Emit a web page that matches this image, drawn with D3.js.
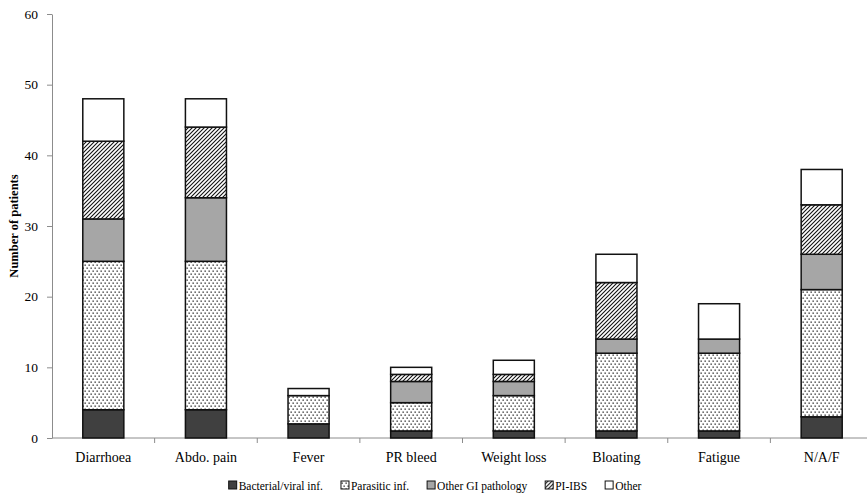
<!DOCTYPE html>
<html>
<head>
<meta charset="utf-8">
<script src="https://cdn.jsdelivr.net/npm/d3@7"></script>
<style>
  body { margin: 0; background: #fff; }
  text { font-family: "Liberation Serif", "DejaVu Serif", serif; }
</style>
</head>
<body>
<div id="chart"></div>
<script>
// categories and stacked series (number of patients)
const categories = ["Diarrhoea", "Abdo. pain", "Fever", "PR bleed", "Weight loss", "Bloating", "Fatigue", "N/A/F"];
const seriesNames = ["Bacterial/viral inf.", "Parasitic inf.", "Other GI pathology", "PI-IBS", "Other"];
const bacterial = [4, 4, 2, 1, 1, 1, 1, 3];
const parasitic = [21, 21, 4, 4, 5, 11, 11, 18];
const otherGI   = [6, 9, 0, 3, 2, 2, 2, 5];
const piIBS     = [11, 10, 0, 1, 1, 8, 0, 7];
const other     = [6, 4, 1, 1, 2, 4, 5, 5];
const yTicks = [0, 10, 20, 30, 40, 50, 60];

let width = 867,
  height = 498,
  margin = ({ top: 14, right: -6, bottom: 60, left: 52 });

const svg = d3.select("#chart")
  .append("svg")
  .attr("width", width)
  .attr("height", height);

// fill patterns
const defs = svg.append("defs");
const dots = defs.append("pattern")
  .attr("id", "dots")
  .attr("patternUnits", "userSpaceOnUse")
  .attr("width", 4).attr("height", 6);
dots.append("rect").attr("width", 4).attr("height", 6).attr("fill", "#fff");
dots.append("rect").attr("x", 0.5).attr("y", 0.5).attr("width", 1.3).attr("height", 1.3).attr("fill", "#222");
dots.append("rect").attr("x", 2.5).attr("y", 3.5).attr("width", 1.3).attr("height", 1.3).attr("fill", "#222");

const hatch = defs.append("pattern")
  .attr("id", "hatch")
  .attr("patternUnits", "userSpaceOnUse")
  .attr("width", 4).attr("height", 4);
hatch.append("rect").attr("width", 4).attr("height", 4).attr("fill", "#fff");
hatch.append("path")
  .attr("d", "M-1,1 l2,-2 M0,4 l4,-4 M3,5 l2,-2")
  .attr("stroke", "#111")
  .attr("stroke-width", 1.1);

const fills = ["#404040", "url(#dots)", "#a6a6a6", "url(#hatch)", "#fff"];

const table = categories.map((c, i) => ({
  cat: c,
  "Bacterial/viral inf.": bacterial[i],
  "Parasitic inf.": parasitic[i],
  "Other GI pathology": otherGI[i],
  "PI-IBS": piIBS[i],
  "Other": other[i]
}));

const stacked = d3.stack().keys(seriesNames)(table);

let x = d3.scaleBand()
  .domain(categories)
  .range([margin.left, width - margin.right])
  .paddingInner(0.6)
  .paddingOuter(0.3);

let y = d3.scaleLinear()
  .domain([0, 60])
  .range([height - margin.bottom, margin.top]);

// y axis
const yAxis = svg.append("g")
  .attr("transform", `translate(${margin.left},0)`)
  .call(d3.axisLeft(y).tickValues(yTicks).tickSize(5).tickSizeOuter(0));
yAxis.select(".domain").attr("stroke", "#8c8c8c");
yAxis.selectAll(".tick line").attr("stroke", "#8c8c8c");
yAxis.selectAll(".tick text")
  .attr("font-size", 13.5)
  .attr("font-family", "Liberation Serif")
  .attr("fill", "#000")
  .attr("x", -14);

// x axis with ticks between bands
const xAxis = svg.append("g")
  .attr("transform", `translate(0,${height - margin.bottom})`);
xAxis.append("line")
  .attr("x1", margin.left).attr("x2", width)
  .attr("stroke", "#8c8c8c");
xAxis.selectAll(".sep")
  .data(categories.slice(1))
  .join("line")
  .attr("class", "sep")
  .attr("x1", d => x(d) - x.step() * x.paddingInner() / 2)
  .attr("x2", d => x(d) - x.step() * x.paddingInner() / 2)
  .attr("y1", 0).attr("y2", 5)
  .attr("stroke", "#8c8c8c");
xAxis.selectAll(".lbl")
  .data(categories)
  .join("text")
  .attr("class", "lbl")
  .attr("x", d => x(d) + x.bandwidth() / 2)
  .attr("y", 24)
  .attr("text-anchor", "middle")
  .attr("font-size", 14)
  .text(d => d);

// stacked bars
svg.append("g")
  .selectAll("g")
  .data(stacked)
  .join("g")
  .attr("fill", (d, i) => fills[i])
  .selectAll("rect")
  .data(d => d.filter(s => s[1] - s[0] > 0))
  .join("rect")
  .attr("x", d => x(d.data.cat))
  .attr("y", d => y(d[1]))
  .attr("width", x.bandwidth())
  .attr("height", d => y(d[0]) - y(d[1]))
  .attr("stroke", "#111")
  .attr("stroke-width", 1.5);

// y label
svg.append("text")
  .attr("transform", `translate(18,${(margin.top + height - margin.bottom) / 2}) rotate(-90)`)
  .attr("text-anchor", "middle")
  .attr("font-size", 12.5)
  .attr("font-weight", "bold")
  .text("Number of patients");

// legend, centred under the plot like the original
const legend = svg.append("g").attr("transform", "translate(0,488)");
let lx = 0;
seriesNames.forEach((name, i) => {
  const g = legend.append("g").attr("transform", `translate(${lx},0)`);
  g.append("rect")
    .attr("x", 0).attr("y", -7)
    .attr("width", 8).attr("height", 8)
    .attr("fill", fills[i])
    .attr("stroke", "#111")
    .attr("stroke-width", 1);
  const t = g.append("text")
    .attr("x", 10).attr("y", 1)
    .attr("dy", "0.1em")
    .attr("font-size", 11.5)
    .text(name);
  lx += 10 + t.node().getComputedTextLength() + 18;
});
const legendW = lx - 18;
legend.attr("transform", `translate(${435 - legendW / 2},488)`);
</script>
</body>
</html>
